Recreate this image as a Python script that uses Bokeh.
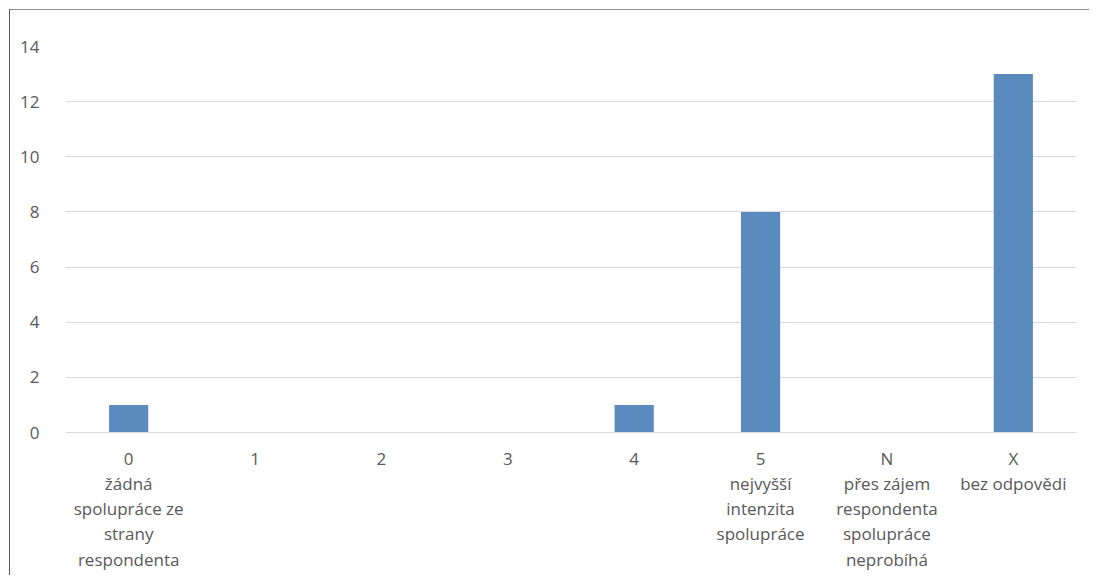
from bokeh.plotting import figure
from bokeh.models import FactorRange, SingleIntervalTicker
from bokeh.embed import file_html
from bokeh.resources import INLINE

labels = [
    "0\nžádná\nspolupráce ze\nstrany\nrespondenta",
    "1",
    "2",
    "3",
    "4",
    "5\nnejvyšší\nintenzita\nspolupráce",
    "N\npřes zájem\nrespondenta\nspolupráce\nneprobíhá",
    "X\nbez odpovědi",
]
values = [1, 0, 0, 0, 1, 8, 0, 13]

FONT = "Open Sans"
TXT = "#595959"
GRID = "#D9D9D9"

p = figure(
    x_range=FactorRange(factors=labels, range_padding=0),
    y_range=(0, 14),
    width=1080, height=566,
    output_backend="svg", toolbar_location=None,
    min_border_left=55, min_border_right=14, min_border_top=36, min_border_bottom=144,
    outline_line_color=None,
    styles={"border-top": "1px solid #8c8c8c", "border-left": "1px solid #595959"},
)
p.margin = (9, 0, 0, 9)
p.vbar(x=labels, top=values, width=0.31, color="#5B8BBE", line_color=None)

p.yaxis.ticker = SingleIntervalTicker(interval=2)
p.yaxis.axis_line_color = None
p.yaxis.major_tick_line_color = None
p.yaxis.minor_tick_line_color = None
p.yaxis.major_label_standoff = 20
p.yaxis.major_label_text_font = FONT
p.yaxis.major_label_text_font_size = "17px"
p.yaxis.major_label_text_color = TXT

p.xaxis.axis_line_color = GRID
p.xaxis.axis_line_width = 1
p.xaxis.major_tick_line_color = None
p.xaxis.minor_tick_line_color = None
p.xaxis.major_label_standoff = 8
p.xaxis.major_label_text_font = FONT
p.xaxis.major_label_text_font_size = "17px"
p.xaxis.major_label_text_color = TXT
p.xaxis.major_label_text_line_height = 1.1

p.xgrid.grid_line_color = None
p.ygrid.grid_line_color = GRID
p.ygrid.grid_line_width = 1

open("out.html", "w").write(file_html(p, INLINE))
